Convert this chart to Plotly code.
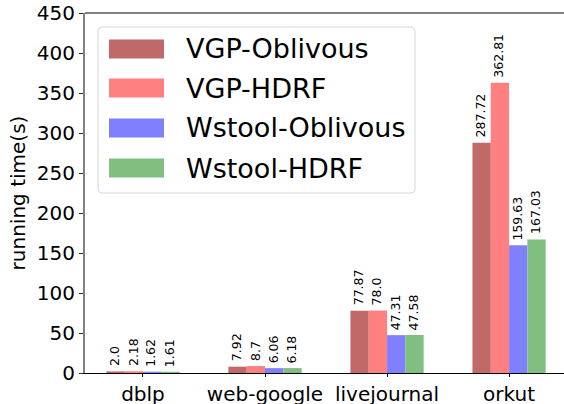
import plotly.graph_objects as go

categories = ["dblp", "web-google", "livejournal", "orkut"]
series_names = ["VGP-Oblivous", "VGP-HDRF", "Wstool-Oblivous", "Wstool-HDRF"]
vgp_oblivous = [2.0, 7.92, 77.87, 287.72]
vgp_hdrf = [2.18, 8.7, 78.0, 362.81]
wstool_oblivous = [1.62, 6.06, 47.31, 159.63]
wstool_hdrf = [1.61, 6.18, 47.58, 167.03]
y_ticks = [0, 50, 100, 150, 200, 250, 300, 350, 400, 450]

series_values = [vgp_oblivous, vgp_hdrf, wstool_oblivous, wstool_hdrf]
colors = ["#BF6969", "#FF8080", "#8080FF", "#80BF80"]

W, H = 564, 404
L, R, T, B = 85, 0, 13, 31
PW, PH = W - L - R, H - T - B
FONT = "DejaVu Sans"
X_RANGE = [-0.475, 3.45]
CAT_PX = PW / (X_RANGE[1] - X_RANGE[0])
BAR_W = 0.15

def px_x(x):
    return (x - L) / PW

def px_y(y):
    return (H - B - y) / PH

fig = go.Figure()
annotations = []
n = len(series_names)
for k, (name, vals, col) in enumerate(zip(series_names, series_values, colors)):
    fig.add_trace(go.Bar(
        x=categories, y=vals, name=name,
        marker=dict(color=col, line=dict(width=0)),
        showlegend=False,
    ))
    offset = (k - (n - 1) / 2) * BAR_W
    for c, v in zip(categories, vals):
        annotations.append(dict(
            x=c, y=v, xref="x", yref="y", text=str(v), showarrow=False,
            textangle=-90, xanchor="center", yanchor="bottom",
            xshift=offset * CAT_PX - 1, yshift=3,
            font=dict(family=FONT, size=12.5, color="black")))

# custom legend (matplotlib-style)
shapes = []
bx0, bx1, by0, by1 = px_x(98), px_x(415), px_y(193), px_y(27)
rx, ry = 4 / PW, 4 / PH
path = (f"M {bx0+rx},{by0} L {bx1-rx},{by0} Q {bx1},{by0} {bx1},{by0+ry} "
        f"L {bx1},{by1-ry} Q {bx1},{by1} {bx1-rx},{by1} L {bx0+rx},{by1} "
        f"Q {bx0},{by1} {bx0},{by1-ry} L {bx0},{by0+ry} Q {bx0},{by0} {bx0+rx},{by0} Z")
shapes.append(dict(type="path", xref="paper", yref="paper", path=path,
                   fillcolor="rgba(255,255,255,0.8)",
                   line=dict(color="#D6D6D6", width=1), layer="above"))
centers = [49, 88, 128, 168]
for name, col, cy in zip(series_names, colors, centers):
    shapes.append(dict(type="rect", xref="paper", yref="paper",
                       x0=px_x(109), x1=px_x(164), y0=px_y(cy + 9.5), y1=px_y(cy - 9.5),
                       fillcolor=col, line=dict(width=0), layer="above"))
    annotations.append(dict(xref="paper", yref="paper", x=px_x(184), y=px_y(cy),
                            text=name, showarrow=False, xanchor="left", yanchor="middle",
                            font=dict(family=FONT, size=27, color="black")))
# top spine
shapes.append(dict(type="line", xref="paper", yref="paper", x0=0, x1=1, y0=1, y1=1,
                   line=dict(color="black", width=1.2)))

fig.update_layout(
    width=W, height=H,
    margin=dict(l=L, r=R, t=T, b=B, autoexpand=False),
    barmode="group", bargap=0.4, bargroupgap=0,
    plot_bgcolor="white", paper_bgcolor="white",
    font=dict(family=FONT, size=20, color="black"),
    shapes=shapes, annotations=annotations,
    xaxis=dict(range=X_RANGE, showline=True, linecolor="black", linewidth=1.2,
               ticks="outside", ticklen=3, tickcolor="black", showgrid=False,
               automargin=False,
               tickfont=dict(family=FONT, size=20, color="black")),
    yaxis=dict(range=[0, 450], tickvals=y_ticks, showline=True, linecolor="#808080",
               linewidth=2, ticks="outside", ticklen=4, tickcolor="#333333",
               showgrid=False, zeroline=False, automargin=False,
               tickfont=dict(family=FONT, size=20, color="black"),
               title=dict(text="running time(s)", standoff=6,
                          font=dict(family=FONT, size=20, color="black"))),
)

fig.write_html("out.html", config={"displayModeBar": False, "staticPlot": True},
               post_script="document.body.style.margin='0';document.body.style.overflow='hidden';")
